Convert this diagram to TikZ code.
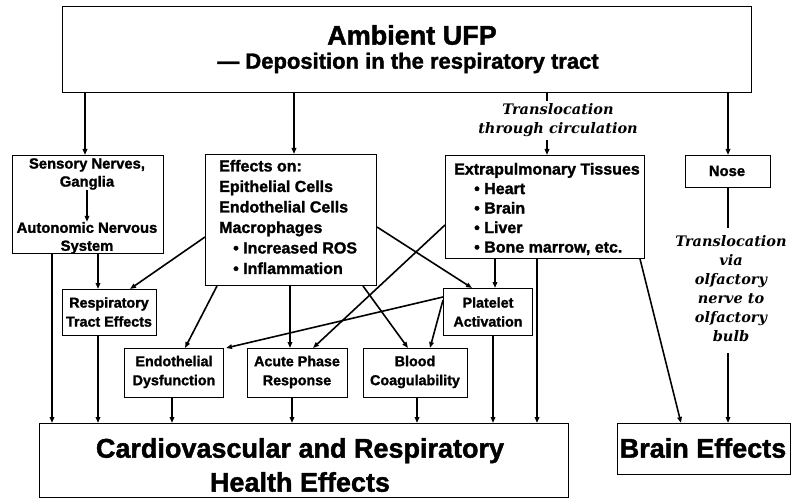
\documentclass[tikz,border=0pt]{standalone}
\usepackage{fontspec}
\setmainfont[BoldFeatures={FakeBold=1.5}]{Liberation Sans}
\newfontfamily\transfont{DejaVu Serif}
\usetikzlibrary{arrows.meta,calc}
\begin{document}
\begin{tikzpicture}[x=1pt,y=-1pt,
  box/.style={draw, line width=1pt, anchor=north west, inner sep=0pt},
  arr/.style={line width=1.6pt, -{Triangle[length=6pt,width=4.5pt]}},
  ln/.style={line width=1.6pt},
  txt/.style={font=\bfseries\fontsize{14.8}{18}\selectfont, align=center, inner sep=0pt},
  smalltxt/.style={font=\bfseries\fontsize{14.3}{19}\selectfont, align=center, inner sep=0pt},
  bigtxt/.style={font=\bfseries\fontsize{27}{34}\selectfont, align=center, inner sep=0pt},
  trans/.style={font=\transfont\bfseries\itshape\fontsize{14.5}{19}\selectfont, align=center, inner sep=0pt}]
\useasboundingbox (0,0) rectangle (791,502);
\fill[white] (0,0) rectangle (791,502);

% boxes
\node[box, minimum width=689pt, minimum height=86pt] (top) at (62,6) {};
\node[box, minimum width=151pt, minimum height=98pt] (sens) at (12,155) {};
\node[box, minimum width=171pt, minimum height=131pt] (eff) at (205,154) {};
\node[box, minimum width=199pt, minimum height=103pt] (extra) at (445,155) {};
\node[box, minimum width=85pt, minimum height=32pt] (nose) at (685,155) {};
\node[box, minimum width=94pt, minimum height=46pt] (resp) at (62,289) {};
\node[box, minimum width=89pt, minimum height=47pt] (plat) at (443,288) {};
\node[box, minimum width=99pt, minimum height=49pt] (endo) at (124,348) {};
\node[box, minimum width=100pt, minimum height=49pt] (acute) at (247,348) {};
\node[box, minimum width=104pt, minimum height=49pt] (blood) at (363,348) {};
\node[box, minimum width=529pt, minimum height=74pt] (cardio) at (39,423) {};
\node[box, minimum width=173pt, minimum height=51pt] (brain) at (617,423) {};

% texts
\node[font=\bfseries\fontsize{27}{30}\selectfont, inner sep=0pt] (title) at (412,35) {Ambient UFP};
\node[font=\bfseries\fontsize{22}{26}\selectfont, inner sep=0pt] (subtitle) at (408,63) {--- Deposition in the respiratory tract};
\node[trans] (trans1) at (558,120) {Translocation\\through circulation};
\node[txt] (sens1) at (87,174) {Sensory Nerves,\\Ganglia};
\node[txt] (sens2) at (87,238) {Autonomic Nervous\\System};
\node[font=\bfseries\fontsize{16}{20.5}\selectfont, align=left, inner sep=0pt, anchor=west] (efftxt) at (219,217)
  {Effects on:\\Epithelial Cells\\Endothelial Cells\\Macrophages\\\hspace{14pt}• Increased ROS\\\hspace{14pt}• Inflammation};
\node[font=\bfseries\fontsize{16}{19.5}\selectfont, align=left, inner sep=0pt, anchor=west] (extxt) at (454,209)
  {Extrapulmonary Tissues\\\hspace{20pt}• Heart\\\hspace{20pt}• Brain\\\hspace{20pt}• Liver\\\hspace{20pt}• Bone marrow, etc.};
\node[txt] (nosetxt) at (727,171) {Nose};
\node[smalltxt] (resptxt) at (109,312) {Respiratory\\Tract Effects};
\node[smalltxt] (plattxt) at (488,312) {Platelet\\Activation};
\node[smalltxt] (endotxt) at (174,372) {Endothelial\\Dysfunction};
\node[smalltxt] (acutetxt) at (297,372) {Acute Phase\\Response};
\node[smalltxt] (bloodtxt) at (415,372) {Blood\\Coagulability};
\node[bigtxt] (cardiotxt) at (300,465) {Cardiovascular and Respiratory\\Health Effects};
\node[bigtxt] (braintxt) at (703,448) {Brain Effects};
\node[trans] (olf) at (731,289) {Translocation\\via\\olfactory\\nerve to\\olfactory\\bulb};

% connectors
\draw[arr] ($(top.south west)+(23,0)$) -- ($(sens.north west)+(73,0)$);
\draw[arr] ($(top.south west)+(232,0)$) -- ($(eff.north west)+(89,0)$);
\draw[ln] ($(top.south west)+(485,0)$) -- ($(top.south west)+(485,8)$);
\draw[arr] ($(extra.north west)+(102,-15)$) -- ($(extra.north west)+(102,0)$);
\draw[arr] ($(top.south west)+(666,0)$) -- ($(nose.north west)+(43,0)$);
\draw[arr] (sens1.south) -- (sens2.north);
\draw[arr] ($(sens.south west)+(40,0)$) -- ($(cardio.north west)+(13,0)$);
\draw[arr] ($(sens.south west)+(86,0)$) -- ($(resp.north west)+(36,0)$);
\draw[arr] ($(resp.south west)+(36,0)$) -- ($(cardio.north west)+(59,0)$);
\draw[arr] ($(eff.north west)+(0,83)$) -- ($(resp.north west)+(68,0)$);
\draw[arr] ($(eff.south west)+(12,0)$) -- ($(endo.north west)+(61,0)$);
\draw[arr] ($(eff.south west)+(85,0)$) -- ($(acute.north west)+(43,0)$);
\draw[arr] ($(eff.south west)+(158,0)$) -- ($(blood.north west)+(45,0)$);
\draw[arr] ($(eff.north east)+(0,73)$) -- ($(plat.north west)+(29,0)$);
\draw[arr] ($(extra.north west)+(0,70)$) -- ($(acute.north west)+(66,0)$);
\draw[arr] ($(extra.south west)+(50,0)$) -- ($(plat.north west)+(52,0)$);
\draw[arr] ($(extra.south west)+(92,0)$) -- ($(cardio.north west)+(498,0)$);
\draw[arr] ($(extra.south west)+(195,0)$) -- ($(brain.north west)+(64,0)$);
\draw[arr] ($(plat.north west)+(0,9)$) -- ($(endo.north east)+(2,0)$);
\draw[arr] ($(plat.north west)+(0,12)$) -- ($(blood.north west)+(67,0)$);
\draw[arr] ($(plat.south west)+(50,0)$) -- ($(cardio.north west)+(454,0)$);
\draw[arr] ($(endo.south west)+(48,0)$) -- ($(cardio.north west)+(133,0)$);
\draw[arr] ($(acute.south west)+(45,0)$) -- ($(cardio.north west)+(253,0)$);
\draw[arr] ($(blood.south west)+(54,0)$) -- ($(cardio.north west)+(378,0)$);
\draw[ln] (nose.south) -- ($(nose.south)+(0,40)$);
\draw[arr] ($(brain.north west)+(111,-70)$) -- ($(brain.north west)+(111,0)$);
\end{tikzpicture}
\end{document}
